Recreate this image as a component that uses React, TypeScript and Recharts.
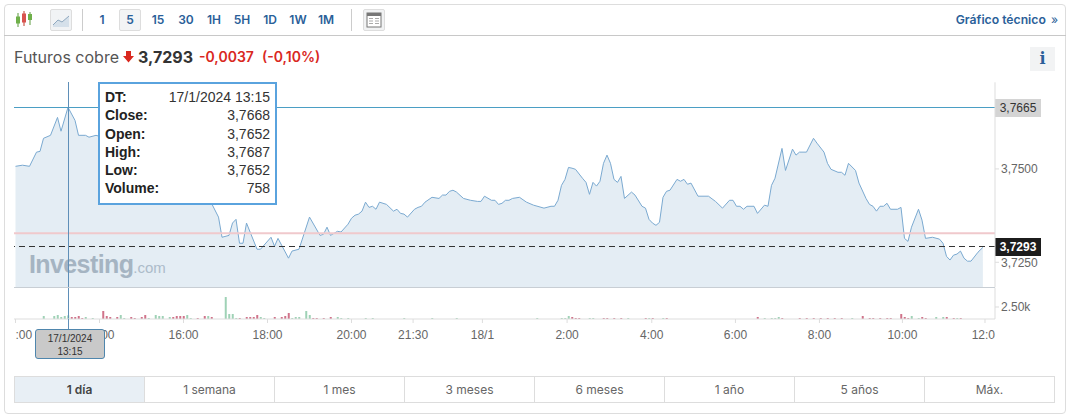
import React from 'react';
import { AreaChart, Area, BarChart, Bar, Cell, XAxis, YAxis, ReferenceLine } from 'recharts';

const closeBars = [0,2,4,6,7,8,10,12,13,15,17,18,20,21,23,26,30,34,38,41,45,48,52,56,58,59,61,62,63,64,65,66,69,70,73,74,75,78,79,81,84,87,88,89,90,92,93,95,96,97,98,99,100,101,102,103,104,106,108,109,110,111,112,114,115,116,117,119,121,122,123,124,125,126,128,130,132,133,134,136,137,138,139,140,141,142,144,146,148,151,153,154,155,156,157,158,159,160,162,163,164,165,166,167,168,169,170,171,172,173,174,176,177,179,180,181,182,183,184,185,186,187,189,190,191,192,193,195,198,200,202,204,205,206,207,208,209,211,212,214,215,216,217,219,220,222,223,224,226,228,229,231,232,233,235,236,237,238,240,241,243,244,245,246,247,248,249,250,252,253,254,255,256,258,259,260,262,264,265,266,267,268,269,270,271,272,273,275,276.4];
const closeValues = [3.7507,3.7510,3.7507,3.7545,3.7547,3.7582,3.7590,3.7638,3.7601,3.7665,3.7630,3.7590,3.7590,3.7585,3.7590,3.7582,3.7585,3.7563,3.7545,3.7518,3.7510,3.7491,3.7443,3.7408,3.7371,3.7317,3.7322,3.7355,3.7365,3.7301,3.7301,3.7355,3.7285,3.7285,3.7317,3.7293,3.7314,3.7261,3.7280,3.7285,3.7371,3.7322,3.7325,3.7344,3.7322,3.7333,3.7331,3.7352,3.7368,3.7376,3.7379,3.7387,3.7411,3.7397,3.7400,3.7392,3.7411,3.7405,3.7387,3.7392,3.7381,3.7379,3.7371,3.7392,3.7397,3.7400,3.7411,3.7424,3.7421,3.7430,3.7430,3.7440,3.7443,3.7438,3.7421,3.7416,3.7413,3.7413,3.7427,3.7416,3.7416,3.7405,3.7408,3.7416,3.7416,3.7421,3.7424,3.7411,3.7403,3.7395,3.7400,3.7400,3.7416,3.7456,3.7472,3.7504,3.7502,3.7499,3.7475,3.7464,3.7432,3.7464,3.7454,3.7467,3.7515,3.7537,3.7515,3.7472,3.7464,3.7480,3.7421,3.7438,3.7430,3.7400,3.7395,3.7365,3.7355,3.7349,3.7357,3.7424,3.7440,3.7443,3.7472,3.7467,3.7472,3.7459,3.7462,3.7427,3.7427,3.7413,3.7395,3.7416,3.7416,3.7400,3.7400,3.7392,3.7400,3.7400,3.7381,3.7403,3.7400,3.7456,3.7475,3.7555,3.7496,3.7553,3.7537,3.7545,3.7545,3.7582,3.7569,3.7545,3.7515,3.7499,3.7491,3.7491,3.7483,3.7515,3.7496,3.7462,3.7421,3.7405,3.7400,3.7387,3.7400,3.7400,3.7408,3.7392,3.7392,3.7397,3.7314,3.7306,3.7344,3.7392,3.7363,3.7314,3.7317,3.7312,3.7301,3.7266,3.7256,3.7269,3.7272,3.7280,3.7261,3.7253,3.7253,3.7277,3.7290];

const volumeBars = [8,11,12,13,14,15,16,17,18,19,20,22,25,26,27,29,30,31,33,34,36,37,38,40,41,42,44,45,46,47,48,49,50,52,54,55,56,60,61,62,63,64,66,67,68,69,70,71,74,76,77,78,79,80,81,83,84,85,86,88,90,92,93,95,100,102,111,119,126,149,156,157,158,159,160,161,164,165,168,169,171,173,175,180,181,182,185,186,212,214,216,217,218,219,224,226,228,230,232,234,236,239,242,244,245,247,249,250,253,254,255,256,258,259,260,263,265,266,268,269,270];
const volumeValues = [620,620,830,420,620,758,420,420,620,210,420,210,1670,620,420,420,830,210,420,210,420,830,210,830,620,620,420,420,620,620,620,830,210,210,620,620,420,4580,1040,1040,210,210,420,420,420,830,420,210,420,420,620,1250,210,420,420,1670,830,210,210,210,420,420,210,210,210,210,210,210,210,210,210,210,620,420,210,210,210,210,210,210,210,210,210,210,210,210,210,210,420,210,210,210,420,210,210,210,210,210,210,210,210,210,620,210,210,210,210,210,1040,420,210,620,210,420,210,420,420,420,210,210,210];
const upBars = [8,11,12,13,14,15,20,22,30,31,38,40,41,42,44,49,50,55,60,61,62,63,70,71,79,80,81,83,84,92,93,95,100,102,111,119,126,149,156,157,158,164,165,175,181,185,214,216,217,218,239,256,258,263,265,269];

const priceTicks = [3.75, 3.725];
const volumeTicks = [2500];
const timeTicks = [0,24,48,72,96,113.6,133.4,157.6,181.8,205.7,229.7,253.4,277];
const timeLabels = [':00','14:00','16:00','18:00','20:00','21:30','18/1','2:00','4:00','6:00','8:00','10:00','12:0'];
const intervals = ['1','5','15','30','1H','5H','1D','1W','1M'];
const ranges = ['1 día','1 semana','1 mes','3 meses','6 meses','1 año','5 años','Máx.'];
const tooltipRows = [['DT:','17/1/2024 13:15'],['Close:','3,7668'],['Open:','3,7652'],['High:','3,7687'],['Low:','3,7652'],['Volume:','758']];

const hoverBar = 15;
const hoverPrice = 3.7665;
const lastPrice = 3.7293;
const prevClose = 3.7328;
const priceDomain = [3.7183, 3.7732];
const barDomain = [-0.43, 279.86];

const priceData = closeBars.map((bar, i) => ({ bar, close: closeValues[i] }));
const volumeData = volumeBars.map((bar, i) => ({ bar, volume: volumeValues[i], up: upBars.includes(bar) }));

const UI = 'Inter, "Noto Sans", sans-serif';
const AX = '"Liberation Sans", Arial, sans-serif';
const fmt = (v: number) => v.toFixed(4).replace('.', ',');
const BLUE = '#2a6099';

const TimeTick = (props: any) => {
  const { x, y, payload } = props;
  const idx = timeTicks.indexOf(payload.value);
  const label = timeLabels[idx];
  const anchor = idx === 0 ? 'start' : idx === timeTicks.length - 1 ? 'end' : 'middle';
  const px = idx === timeTicks.length - 1 ? 995 : x;
  return <text x={px} y={y + 14} textAnchor={anchor} fontFamily={AX} fontSize={12} fill="#666">{label}</text>;
};

const PriceTag = (props: any) => {
  const vb = props.viewBox;
  const x = vb.x + vb.width;
  return (
    <g>
      <rect x={x} y={Math.round(vb.y) - 8} width={46} height={18} fill={props.bg} />
      <text x={x + 23} y={Math.round(vb.y) + 5} textAnchor="middle" fontFamily={AX} fontSize={12} fontWeight={props.bold ? 700 : 400} fill={props.fg}>{props.text}</text>
    </g>
  );
};

const abs = (left: number, top: number, width: number, height: number, extra: any = {}): any => ({ position: 'absolute', left, top, width, height, boxSizing: 'border-box', ...extra });

const CandleIcon = () => (
  <svg style={abs(14, 10, 20, 20)} viewBox="0 0 20 20">
    <line x1="4" y1="3" x2="4" y2="17" stroke="#5a9a3c" />
    <rect x="2" y="6.5" width="4" height="7" fill="#6fb04a" />
    <line x1="10" y1="1" x2="10" y2="16" stroke="#c0392b" />
    <rect x="8" y="3.5" width="4" height="9" fill="#d9534f" />
    <line x1="16" y1="2" x2="16" y2="15" stroke="#5a9a3c" />
    <rect x="14" y="4" width="4" height="6" fill="#6fb04a" />
  </svg>
);

export default function App() {
  return (
    <div style={{ position: 'absolute', left: 0, top: 0, width: 1072, height: 418, background: '#fff', overflow: 'hidden', fontFamily: UI }}>
      <div style={abs(4, 4, 1062, 410, { border: '1px solid #ddd', borderRadius: 4 })} />
      <div style={abs(4, 35, 1062, 1, { background: '#c8c8c8' })} />
      <CandleIcon />
      <div style={abs(50, 9, 22, 22, { border: '1px solid #ddd', borderRadius: 2, background: '#f1f3f5' })}>
        <svg width="20" height="20" viewBox="0 0 20 20">
          <path d="M2 15 L7 10 L11 12 L18 6 L18 17 L2 17 Z" fill="#d5e0ea" />
          <path d="M2 15 L7 10 L11 12 L18 6" fill="none" stroke="#8fa8bf" />
        </svg>
      </div>
      <div style={abs(82, 9, 1, 22, { background: '#ccc' })} />
      {intervals.map((t, i) => (
        <div key={t} style={abs(88 + i * 28, 9, 28, 22, { textAlign: 'center', lineHeight: '22px', fontSize: 12, fontWeight: 600, color: BLUE })}>{t}</div>
      ))}
      <div style={abs(119, 9, 22, 22, { border: '1px solid #ddd', borderRadius: 2, background: '#f3f4f5', textAlign: 'center', lineHeight: '20px', fontSize: 12, fontWeight: 600, color: BLUE })}>5</div>
      <div style={abs(351, 9, 1, 22, { background: '#ccc' })} />
      <div style={abs(363, 9, 22, 22, { border: '1px solid #ddd', borderRadius: 2, background: '#f1f2f3' })}>
        <svg width="20" height="20" viewBox="0 0 20 20">
          <rect x="3" y="3" width="14" height="14" fill="#fff" stroke="#777" />
          <rect x="3" y="3" width="14" height="3" fill="#777" />
          <path d="M5 8.5H9M5 11H9M5 13.5H9M11 8.5H15M11 11H15M11 13.5H15" stroke="#aaa" />
        </svg>
      </div>
      <div style={abs(900, 11, 158, 18, { textAlign: 'right', fontSize: 12.2, fontWeight: 600, lineHeight: '18px', color: BLUE, whiteSpace: 'nowrap' })}>
        Gráfico técnico <span style={{ fontWeight: 400, marginLeft: 2 }}>»</span>
      </div>

      <div style={abs(14, 47, 110, 20, { fontSize: 16, lineHeight: '20px', color: '#555', whiteSpace: 'nowrap' })}>Futuros cobre</div>
      <svg style={abs(123, 51, 11, 12)} viewBox="0 0 11 12"><path d="M3 0H8V5H11L5.5 11.5L0 5H3Z" fill="#d9281e" /></svg>
      <div style={abs(138, 47, 60, 20, { fontSize: 16, fontWeight: 700, lineHeight: '20px', color: '#333', whiteSpace: 'nowrap' })}>3,7293</div>
      <div style={abs(199, 47, 60, 20, { fontSize: 14, fontWeight: 600, lineHeight: '20px', color: '#d9281e', whiteSpace: 'nowrap' })}>-0,0037</div>
      <div style={abs(262, 47, 70, 20, { fontSize: 14, fontWeight: 600, lineHeight: '20px', color: '#d9281e', whiteSpace: 'nowrap' })}>(-0,10%)</div>
      <div style={abs(1030, 47, 25, 24, { background: '#f2f3f4', textAlign: 'center', fontFamily: '"DejaVu Serif", serif', fontWeight: 700, fontSize: 16, lineHeight: '24px', color: BLUE })}>i</div>

      <div style={abs(29, 249, 150, 30, { whiteSpace: 'nowrap', color: '#b4bbc3', fontFamily: AX, lineHeight: '30px' })}>
        <span style={{ fontSize: 25, fontWeight: 700, letterSpacing: -0.6 }}>Investing</span>
        <span style={{ fontSize: 15, color: '#bcc4cc' }}>.com</span>
      </div>

      <div style={abs(0, 82, 1072, 206)}>
        <AreaChart width={1072} height={206} data={priceData} margin={{ top: 0.3, right: 0, bottom: 0.7, left: 14 }}>
          <XAxis dataKey="bar" type="number" domain={barDomain} hide allowDataOverflow />
          <YAxis
            orientation="right"
            width={77}
            domain={priceDomain}
            ticks={priceTicks}
            allowDataOverflow
            interval={0}
            tickFormatter={fmt}
            tick={{ fontFamily: AX, fontSize: 12, fill: '#666' }}
            tickLine={{ stroke: '#ddd' }}
            tickSize={4}
            tickMargin={2}
            axisLine={{ stroke: '#ddd' }}
          />
          <Area type="linear" dataKey="close" baseValue={priceDomain[0]} stroke="#7aa9d0" strokeWidth={1} fill="#5f92bd" fillOpacity={0.17} dot={false} activeDot={false} isAnimationActive={false} />
          <ReferenceLine y={prevClose} stroke="#f0c9cc" strokeWidth={2} />
          <ReferenceLine y={hoverPrice} stroke="#4b9ec4" strokeWidth={1} shapeRendering="crispEdges" label={<PriceTag text={fmt(hoverPrice)} bg="#d4d4d4" fg="#333" />} />
          <ReferenceLine y={lastPrice} stroke="#333" strokeWidth={1} strokeDasharray="6 4" shapeRendering="crispEdges" label={<PriceTag text={fmt(lastPrice)} bg="#1c1c1c" fg="#fff" bold />} />
          <ReferenceLine y={priceDomain[0]} stroke="#c8ced4" strokeWidth={1} ifOverflow="visible" shapeRendering="crispEdges" />
          <ReferenceLine x={hoverBar} stroke="#5f8fb8" strokeWidth={1} shapeRendering="crispEdges" />
        </AreaChart>
      </div>

      <div style={abs(0, 288, 1072, 57)}>
        <BarChart width={1072} height={57} data={volumeData} barSize={2} margin={{ top: 0, right: 0, bottom: 0, left: 14 }}>
          <XAxis
            dataKey="bar"
            type="number"
            domain={barDomain}
            allowDataOverflow
            ticks={timeTicks}
            interval={0}
            height={26}
            tick={<TimeTick />}
            tickLine={{ stroke: '#ddd' }}
            tickSize={4}
            axisLine={{ stroke: '#ddd' }}
          />
          <YAxis
            orientation="right"
            width={77}
            domain={[0, 6458]}
            ticks={volumeTicks}
            allowDataOverflow
            tickFormatter={(v: number) => (v / 1000).toFixed(2) + 'k'}
            tick={{ fontFamily: AX, fontSize: 12, fill: '#666' }}
            tickLine={{ stroke: '#ddd' }}
            tickSize={4}
            tickMargin={2}
            axisLine={{ stroke: '#ddd' }}
          />
          <Bar dataKey="volume" isAnimationActive={false}>
            {volumeData.map((d) => (
              <Cell key={d.bar} fill={d.up ? '#9fd2b6' : '#d0738a'} />
            ))}
          </Bar>
          <ReferenceLine x={hoverBar} stroke="#5f8fb8" strokeWidth={1} shapeRendering="crispEdges" />
        </BarChart>
      </div>
      <div style={abs(68, 319, 1, 11, { background: '#5f8fb8' })} />

      <div style={abs(35, 329, 70, 30, { background: '#c9c9c9', border: '1px solid #4f86ad', borderRadius: 3, textAlign: 'center', fontFamily: AX, fontSize: 10, lineHeight: '13px', paddingTop: 1.5, color: '#333' })}>
        17/1/2024<br />13:15
      </div>

      <div style={abs(98, 82, 179, 123, { background: '#fff', border: '2px solid #5aa3de', padding: '4px 5px', fontFamily: AX, fontSize: 14, color: '#222' })}>
        {tooltipRows.map(([k, v]) => (
          <div key={k} style={{ display: 'flex', justifyContent: 'space-between', lineHeight: '18.3px', height: 18.3 }}>
            <span style={{ fontWeight: 700 }}>{k}</span>
            <span style={{ color: '#333' }}>{v}</span>
          </div>
        ))}
      </div>

      <div style={abs(14, 376, 1041, 27, { display: 'flex', border: '1px solid #ddd' })}>
        {ranges.map((r, i) => (
          <div key={r} style={{ flex: 1, textAlign: 'center', fontSize: 12, lineHeight: '25px', color: i === 0 ? '#444' : '#666', fontWeight: i === 0 ? 600 : 400, background: i === 0 ? '#e8eff5' : '#fff', borderLeft: i === 0 ? 'none' : '1px solid #ddd' }}>{r}</div>
        ))}
      </div>
    </div>
  );
}
